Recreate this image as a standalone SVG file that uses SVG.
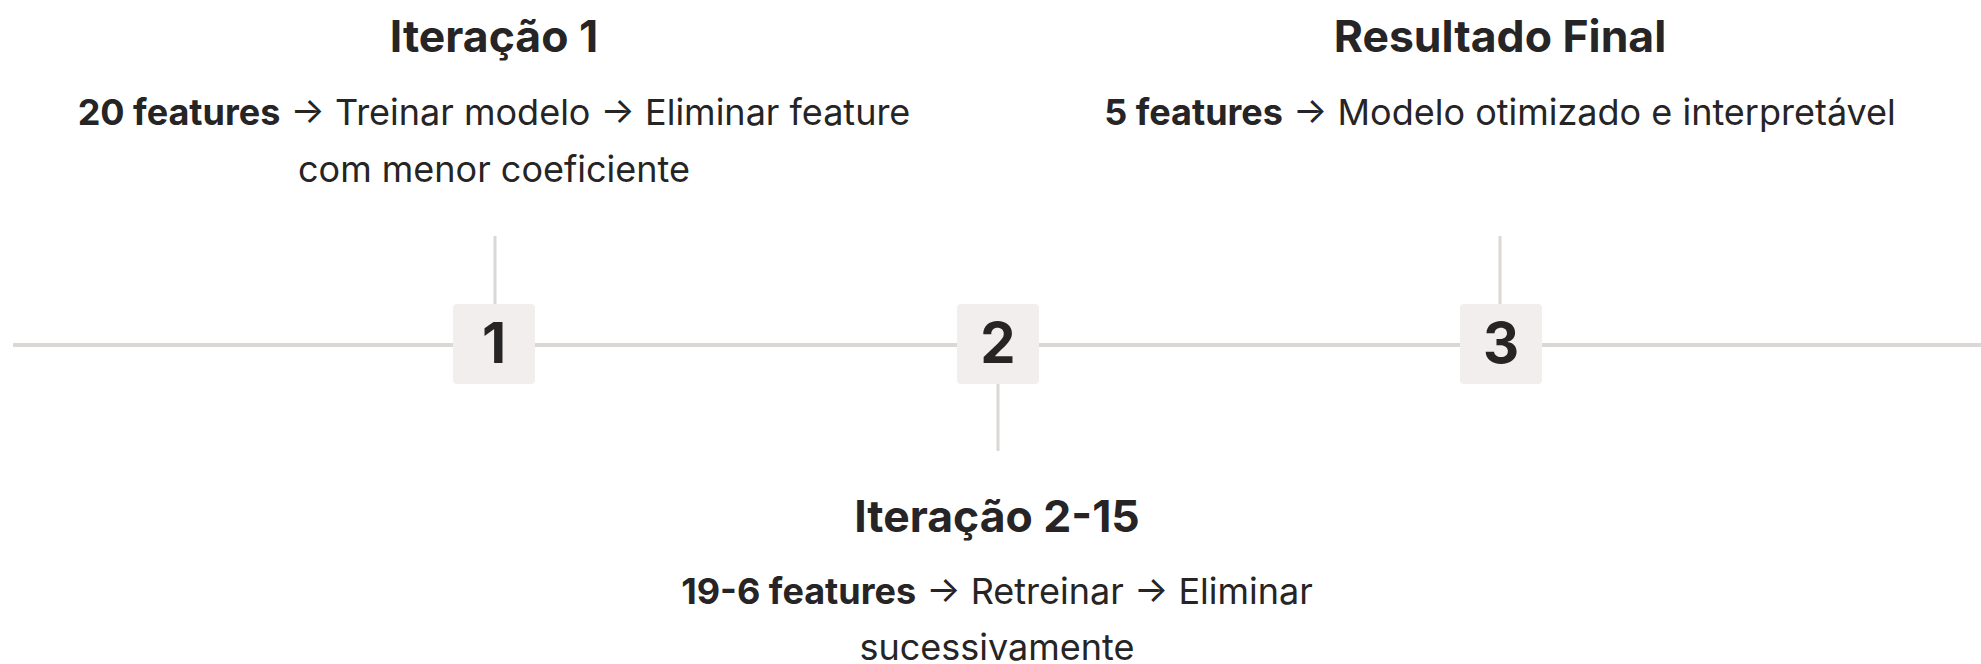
<svg xmlns="http://www.w3.org/2000/svg" width="1981" height="664" viewBox="0 0 1981 664">
<style>
.t{font-family:Inter,"Liberation Sans",sans-serif;fill:#262424;text-anchor:middle}
.title{font-size:44.5px;font-weight:700}
.body{font-size:36px;font-weight:400}
.b{font-weight:700}
.num{font-size:56px;font-weight:700}
.box{fill:#f1eeed}
.line{stroke:#dad7d5;fill:none}
</style>
<rect width="1981" height="664" fill="#ffffff"/>
<g id="connectors">
<line class="line" x1="13" y1="345" x2="1981" y2="345" stroke-width="4"/>
<line class="line" x1="495" y1="236" x2="495" y2="304" stroke-width="3"/>
<line class="line" x1="998" y1="384" x2="998" y2="451" stroke-width="3"/>
<line class="line" x1="1500" y1="236" x2="1500" y2="304" stroke-width="3"/>
</g>
<g id="step1">
<rect class="box" x="453" y="304" width="82" height="80" rx="4"/>
<text class="t num" x="494" y="363">1</text>
<text class="t title" x="494" y="52">Iteração 1</text>
<text class="t body" x="494" y="125"><tspan class="b">20 features</tspan> → Treinar modelo → Eliminar feature</text>
<text class="t body" x="494" y="182">com menor coeficiente</text>
</g>
<g id="step2">
<rect class="box" x="957" y="304" width="82" height="80" rx="4"/>
<text class="t num" x="998" y="363">2</text>
<text class="t title" x="997" y="532">Iteração 2-15</text>
<text class="t body" x="997" y="604"><tspan class="b">19-6 features</tspan> → Retreinar → Eliminar</text>
<text class="t body" x="997" y="660">sucessivamente</text>
</g>
<g id="step3">
<rect class="box" x="1460" y="304" width="82" height="80" rx="4"/>
<text class="t num" x="1501" y="363">3</text>
<text class="t title" x="1500" y="52">Resultado Final</text>
<text class="t body" x="1500" y="125"><tspan class="b">5 features</tspan> → Modelo otimizado e interpretável</text>
</g>
</svg>
